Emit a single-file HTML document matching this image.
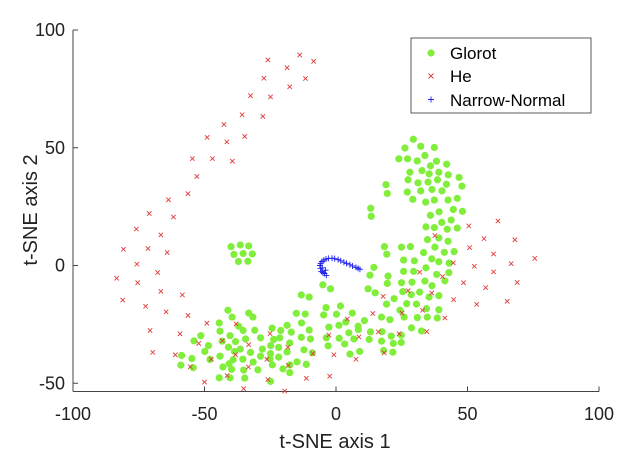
<!DOCTYPE html>
<html><head><meta charset="utf-8"><style>
body{margin:0;background:#fff;width:625px;height:460px;overflow:hidden}
svg{display:block;font-family:"Liberation Sans",sans-serif}
</style></head><body>
<svg id="chart" width="625" height="460">
<g id="axes"></g>
<g id="marks"></g>
<g id="legend">
 <rect x="411" y="38" width="180" height="75" fill="#fff" stroke="#333" stroke-width="0.8"/>
 <g><circle cx="431" cy="53" r="3.6" fill="#80ee3a"/><text x="450" y="59" font-size="17" fill="#000">Glorot</text></g>
 <g><path d="M428.5 73.5l5 5M433.5 73.5l-5 5" stroke="#e03c3c" stroke-width="0.9"/><text x="450" y="82" font-size="17" fill="#000">He</text></g>
 <g><path d="M428 99.5h6M431 96.5v6" stroke="#2020ee" stroke-width="0.9"/><text x="450" y="106" font-size="17" fill="#000">Narrow-Normal</text></g>
</g>
</svg>
<script>
const xTicks=[-100,-50,0,50,100];
const yTicks=[-50,0,50,100];
const heX=[-25.9,-13.8,-8.5,-18.6,-27.4,-11.6,-17.6,-32.5,-24.9,-35.7,-27.8,-42.6,-34.7,-49.0,-41.5,-54.6,-47.0,-39.4,-52.9,-56.3,-63.7,-71.0,-61.8,-75.9,-66.6,-80.8,-71.5,-64.2,-75.7,-67.8,-83.4,-75.4,-66.6,-58.4,-81.1,-72.4,-64.6,-56.3,-70.7,-59.3,-49.1,-38.0,-52.2,-43.2,-69.7,-61.1,-47.5,-33.2,-25.1,-38.2,-33.3,-55.4,-41.4,-50.0,-35.1,-25.9,-26.3,-18.3,-18.1,-19.5,-11.3,-8.8,-2.7,-2.4,-0.8,4.3,8.7,7.6,14.0,16.1,17.9,18.3,24.0,25.1,27.4,31.8,32.9,34.5,36.4,40.5,41.4,44.7,48.5,44.6,37.6,50.5,50.8,56.3,52.6,53.5,56.9,59.9,59.9,61.6,68.0,66.6,68.9,65.1,75.6];
const heY=[87.3,89.4,86.7,84.0,79.5,79.4,75.9,72.1,71.6,64.0,63.3,59.9,54.8,54.4,52.5,45.4,45.4,44.3,37.8,30.5,27.9,22.1,20.6,15.5,13.0,6.9,7.2,5.5,0.6,-3.0,-5.4,-7.3,-11.0,-12.5,-14.7,-17.3,-19.7,-21.2,-27.6,-29.0,-24.5,-24.8,-33.1,-31.9,-36.9,-37.9,-39.8,-33.6,-28.9,-37.9,-43.1,-43.0,-46.7,-49.5,-52.3,-48.4,-39.8,-34.7,-42.4,-53.3,-47.9,-37.4,-29.5,-47.0,-37.9,-22.7,-30.3,-39.8,-20.4,-28.2,-13.1,-37.1,-29.0,-20.2,-10.7,-2.8,-19.0,-28.1,-11.7,-4.7,-22.3,-14.5,-7.3,1.1,12.7,16.8,7.6,11.4,-0.3,-16.5,-9.4,-2.7,4.9,18.9,10.9,0.8,-7.2,-15.2,3.0];
const glX=[29.4,26.2,32.2,37.4,33.8,23.9,27.2,30.9,38.2,35.9,42.1,28.1,32.7,39.1,35.4,42.7,46.8,27.4,31.2,35.0,38.6,42.0,47.9,32.2,36.5,40.3,27.1,29.2,34.1,37.4,42.6,46.1,44.6,48.1,39.2,35.9,40.2,43.8,34.2,37.4,42.3,46.1,34.8,39.1,42.6,19.0,19.5,13.2,13.4,24.9,28.3,18.4,19.3,33.3,37.6,41.2,44.9,36.4,29.8,25.7,39.1,43.0,14.4,12.9,19.8,25.7,29.5,34.2,38.3,42.9,33.8,36.5,41.4,24.9,28.9,19.5,12.2,14.9,31.8,28.6,25.4,35.4,39.1,19.2,22.1,26.9,30.6,34.4,39.1,17.3,20.5,24.3,25.9,30.9,34.7,38.5,28.7,32.5,13.1,17.5,21.0,24.8,12.6,17.3,21.8,24.8,18.1,21.6,-5.0,-2.1,-13.2,-10.2,-3.8,1.7,6.2,-4.7,0.2,10.8,8.4,3.7,-2.7,1.1,4.9,8.5,-3.7,1.2,6.8,-3.0,3.3,9.0,5.3,-15.1,-11.7,-13.1,-17.0,-13.2,-10.2,-9.7,-12.2,-9.0,-17.6,-18.6,-21.0,-21.4,-23.7,-24.3,-24.8,-21.8,-18.6,-14.8,-11.3,-17.5,-24.9,-28.0,-28.7,-25.1,-21.8,-31.5,-29.7,-24.2,-20.2,-17.6,-34.4,-30.9,-28.7,-35.3,-37.0,-36.4,-35.4,-35.1,-34.7,-32.5,-41.1,-39.5,-33.2,-31.6,-44.4,-44.1,-40.3,-38.2,-43.3,-40.9,-38.6,-39.1,-44.1,-40.6,-43.0,-39.7,-44.4,-40.3,-48.5,-47.9,-51.4,-54.0,-49.9,-54.8,-54.3,-58.7,-59.0,-24.9,-39.9,-36.4,-33.2,-38.8,-35.3,-31.8,-37.1,-33.5];
const glY=[53.6,49.9,50.6,50.1,46.7,45.3,45.3,44.4,44.3,42.3,43.0,39.6,40.3,39.6,38.9,38.5,37.4,36.4,35.1,35.4,36.4,34.5,33.7,31.7,32.3,31.7,31.2,28.1,26.9,27.8,27.8,28.5,23.8,23.0,22.8,21.3,18.3,19.3,16.4,16.1,15.4,15.9,11.0,11.7,10.3,34.3,30.6,24.3,20.9,7.8,8.0,8.0,4.8,5.5,7.8,5.6,5.9,2.8,2.0,2.3,1.6,1.0,-0.8,-4.1,-4.5,-2.5,-2.5,-1.0,-3.8,-3.0,-6.6,-8.6,-6.5,-7.3,-7.1,-7.6,-9.9,-11.6,-11.3,-12.4,-11.1,-13.4,-12.8,-16.4,-14.1,-16.2,-16.4,-18.3,-18.8,-21.9,-23.0,-19.0,-21.9,-22.1,-21.9,-22.3,-26.5,-27.8,-28.2,-28.1,-30.0,-29.6,-31.4,-32.1,-33.1,-32.7,-36.1,-36.8,-8.2,-9.9,-12.5,-13.4,-17.9,-17.2,-20.2,-21.0,-20.7,-23.4,-25.8,-24.0,-26.2,-25.4,-28.6,-27.2,-30.7,-30.9,-31.2,-34.1,-33.3,-36.5,-37.6,-20.3,-20.6,-24.4,-28.3,-30.5,-27.4,-31.2,-35.8,-37.1,-32.9,-25.4,-27.6,-30.7,-31.4,-26.6,-34.0,-34.8,-36.7,-40.9,-42.0,-42.2,-37.4,-35.5,-38.5,-39.6,-38.9,-41.0,-44.3,-42.2,-43.9,-45.5,-31.2,-27.5,-30.7,-27.6,-25.8,-35.5,-39.8,-44.4,-47.8,-36.9,-19.0,-21.9,-20.2,-21.9,-24.4,-27.9,-29.8,-32.3,-32.1,-34.7,-36.5,-40.0,-38.5,-41.7,-43.1,-44.1,-47.7,-47.7,-34.0,-39.9,-29.8,-32.0,-36.5,-39.5,-43.4,-38.2,-42.3,-49.2,8.0,8.7,8.3,4.7,5.1,4.9,1.7,1.8];
const nnX=[-3.7,-4.4,-5.0,-5.6,-5.9,-6.1,-5.8,-5.3,-4.6,-3.8,-2.9,-1.5,-0.5,0.8,1.8,3.0,4.0,5.3,6.3,7.6,8.4,9.1,-4.0,-5.2];
const nnY=[-4.2,-3.4,-3.0,-2.5,-1.2,0.0,0.9,1.7,2.3,2.7,3.0,3.1,2.9,2.5,2.0,1.4,0.9,0.3,-0.2,-0.8,-1.2,-1.6,-2.0,-1.0];

const NS='http://www.w3.org/2000/svg';
const X0=73,X1=599,Y0=391.5;
const sx=v=>X0+(v+100)/200*(X1-X0);
const sy=v=>265.5-v*2.355;
function mk(t,a,p){const e=document.createElementNS(NS,t);for(const k in a)e.setAttribute(k,a[k]);p.appendChild(e);return e;}
const axes=document.getElementById('axes'),marks=document.getElementById('marks');
const xa=mk('line',{x1:X0,y1:Y0,x2:X1,y2:Y0,stroke:'#444','stroke-width':1},axes);


const ya=mk('line',{x1:X0,y1:sy(100),x2:X0,y2:Y0,stroke:'#444','stroke-width':1},axes);


xTicks.forEach(v=>{
 mk('line',{x1:sx(v),y1:Y0,x2:sx(v),y2:Y0-5,stroke:'#444'},axes);
 const t=mk('text',{x:sx(v),y:420,'font-size':18,'text-anchor':'middle',fill:'#222'},axes);
 t.textContent=v;
 
 
});
yTicks.forEach(v=>{
 mk('line',{x1:X0,y1:sy(v),x2:X0+5,y2:sy(v),stroke:'#444'},axes);
 const t=mk('text',{x:65,y:sy(v)+6,'font-size':18,'text-anchor':'end',fill:'#222'},axes);
 t.textContent=v;
 
 
});
const xt=mk('text',{x:335,y:448,'font-size':20,'text-anchor':'middle',fill:'#222'},axes);
xt.textContent='t-SNE axis 1';


const yt=mk('text',{x:0,y:0,'font-size':20,'text-anchor':'middle',fill:'#222',transform:'translate(37,210) rotate(-90)'},axes);
yt.textContent='t-SNE axis 2';



glX.forEach((v,i)=>{
 const c=mk('circle',{cx:sx(v),cy:sy(glY[i]),r:3.6,fill:'#80ee3a'},marks);
 
 
});
heX.forEach((v,i)=>{
 const x=sx(v),y=sy(heY[i]);
 const p=mk('path',{d:`M${x-2.2} ${y-2.2}l4.4 4.4M${x+2.2} ${y-2.2}l-4.4 4.4`,stroke:'#e03c3c','stroke-width':0.9},marks);
 
 
});
nnX.forEach((v,i)=>{
 const x=sx(v),y=sy(nnY[i]);
 const p=mk('path',{d:`M${x-3} ${y}h6M${x} ${y-3}v6`,stroke:'#2020ee','stroke-width':0.9},marks);
 
 
});
</script>
</body></html>
